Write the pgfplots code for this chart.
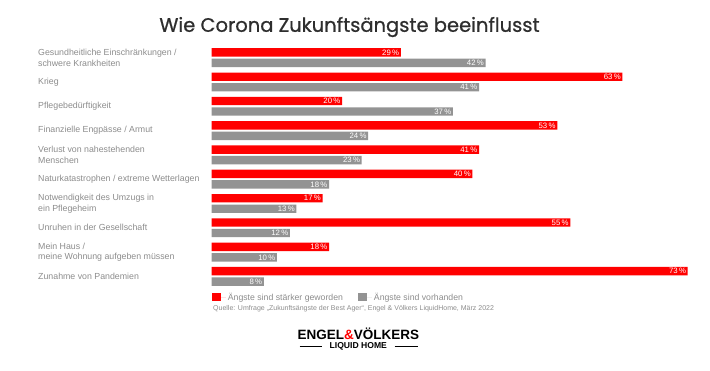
\documentclass[border=0pt]{standalone}
\usepackage{pgfplots}
\pgfplotsset{compat=1.18}
\usepackage{fontspec}
\setmainfont{Liberation Sans}
\newfontfamily\titlefont[FakeBold=0.8]{Poppins}
\definecolor{evred}{HTML}{FF0000}
\definecolor{evgray}{HTML}{939393}
\definecolor{labgray}{HTML}{8C8C8C}
\definecolor{titlegray}{HTML}{2E2E2E}
\begin{document}
\begin{tikzpicture}[x=1pt,y=1pt]
\path[use as bounding box] (0,0) rectangle (710,-371);
\node[font=\titlefont\fontsize{19.5}{21}\selectfont, text=titlegray] at (349.5,-27) {Wie Corona Zukunftsängste beeinflusst};
\begin{axis}[
  at={(211.7pt,-45.55pt)}, anchor=north west,
  scale only axis, width=489pt, height=243pt,
  xmin=0, xmax=75, ymin=-0.5, ymax=9.5, y dir=reverse,
  axis line style={draw=none}, xtick=\empty,
  ytick={0,...,9}, major tick length=0pt,
  yticklabels={{Gesundheitliche Einschränkungen /\\schwere Krankheiten},{Krieg},{Pflegebedürftigkeit},{Finanzielle Engpässe / Armut},{Verlust von nahestehenden\\Menschen},{Naturkatastrophen / extreme Wetterlagen},{Notwendigkeit des Umzugs in\\ein Pflegeheim},{Unruhen in der Gesellschaft},{Mein Haus /\\meine Wohnung aufgeben müssen},{Zunahme von Pandemien}},
  yticklabel style={anchor=west, align=left, inner sep=0pt, xshift=-173.7pt, text=labgray, font=\fontsize{8.8}{10.5}\selectfont},
  xbar, bar width=8.4pt,
  /pgf/number format/assume math mode=true,
  nodes near coords={\pgfmathprintnumber{\pgfplotspointmeta}\,\%},
  nodes near coords style={anchor=east, text=white, inner sep=1.5pt, font=\fontsize{7.8}{8}\selectfont},
  legend columns=2,
  legend style={at={(0,0)}, anchor=north west, draw=none, fill=none, inner sep=0pt, yshift=-2pt,
    font=\fontsize{8.7}{10}\selectfont, text=labgray, cells={anchor=west},
    /tikz/every even column/.append style={column sep=13pt}},
]
\addplot[fill=evred, draw=none, bar shift=5.25pt,
  legend image code/.code={\fill[evred] (0pt,-4pt) rectangle (9pt,4pt); \path (0pt,0pt) -- (14pt,0pt);}]
  coordinates {(29,0) (63,1) (20,2) (53,3) (41,4) (40,5) (17,6) (55,7) (18,8) (73,9)};
\addplot[fill=evgray, draw=none, bar shift=-5.25pt,
  legend image code/.code={\fill[evgray] (0pt,-4pt) rectangle (9pt,4pt); \path (0pt,0pt) -- (14pt,0pt);}]
  coordinates {(42,0) (41,1) (37,2) (24,3) (23,4) (18,5) (13,6) (12,7) (10,8) (8,9)};
\legend{Ängste sind stärker geworden, Ängste sind vorhanden}
\end{axis}
\node[anchor=west, text=labgray, font=\fontsize{7}{8}\selectfont, inner sep=0pt] at (213,-309) {Quelle: Umfrage „Zukunftsängste der Best Ager“, Engel \& Völkers LiquidHome, März 2022};
\node[font=\bfseries\fontsize{13.5}{14}\selectfont, inner sep=0pt] at (358.3,-333.5) {ENGEL\textcolor{evred}{\&}VÖLKERS};
\node[font=\bfseries\fontsize{8.6}{9}\selectfont, inner sep=0pt] at (358.3,-346.5) {LIQUID HOME};
\draw[line width=0.8pt] (299.5,-346.5) -- (321.5,-346.5) (394.5,-346.5) -- (417.5,-346.5);
\end{tikzpicture}
\end{document}
